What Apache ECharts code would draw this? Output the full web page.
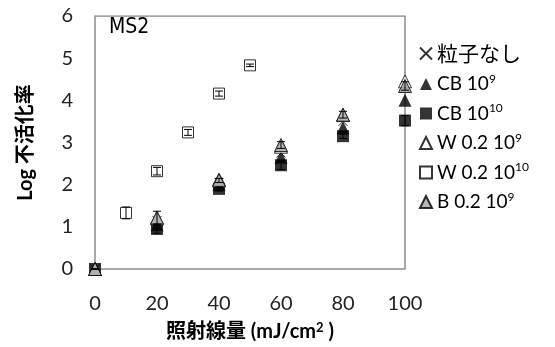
<!DOCTYPE html>
<html>
<head>
<meta charset="utf-8">
<script src="https://cdn.jsdelivr.net/npm/echarts@6/dist/echarts.min.js"></script>
<style>
  html, body { margin: 0; padding: 0; background: #fff; }
  #main { width: 555px; height: 347px; }
</style>
</head>
<body>
<div id="main"></div>
<script>
    var dose = [0, 20, 40, 60, 80, 100];
    var doseW10 = [10, 20, 30, 40, 50];

    var noParticle = [0, 1.15, 2.05, 2.75, 3.5, 4.3];
    var cb9 = [0, 1.05, 2.0, 2.65, 3.35, 4.0];
    var cb10 = [0, 0.95, 1.9, 2.46, 3.15, 3.52];
    var w9 = [0, 1.2, 2.12, 2.9, 3.65, 4.45];
    var w10 = [1.33, 2.32, 3.24, 4.16, 4.83];
    var b9 = [0, 1.22, 2.1, 2.94, 3.66, 4.34];

    var cb10Err = [0, 0.1, 0.05, 0.1, 0.05, 0.12];
    var w10Err = [0.14, 0.09, 0.07, 0.06, 0.03];
    var b9Err = [0, 0.15, 0.05, 0.08, 0.08, 0.1];

    var yTicks = [0, 1, 2, 3, 4, 5, 6];
    var xTicks = [0, 20, 40, 60, 80, 100];

    function pairs(xs, ys) {
        return xs.map(function (x, i) { return [x, ys[i]]; });
    }
    function errData(xs, ys, es) {
        return xs.map(function (x, i) { return [x, ys[i] - es[i], ys[i] + es[i]]; });
    }
    function errRender(params, api) {
        var lo = api.coord([api.value(0), api.value(1)]);
        var hi = api.coord([api.value(0), api.value(2)]);
        var w = 4;
        var st = { stroke: '#000', lineWidth: 1 };
        return {
            type: 'group',
            children: [
                { type: 'line', shape: { x1: lo[0], y1: lo[1], x2: hi[0], y2: hi[1] }, style: st },
                { type: 'line', shape: { x1: lo[0] - w, y1: lo[1], x2: lo[0] + w, y2: lo[1] }, style: st },
                { type: 'line', shape: { x1: hi[0] - w, y1: hi[1], x2: hi[0] + w, y2: hi[1] }, style: st }
            ]
        };
    }

    var crossPath = 'path://M0,0L10,10M10,0L0,10';

    var myChart = echarts.init(document.getElementById('main'));
    var option = {
        animation: false,
        textStyle: { fontFamily: 'Lato, "Noto Sans CJK JP", sans-serif' },
        grid: { left: 95, right: 150, top: 16, bottom: 78 },
        graphic: [{
            type: 'text', left: 109, top: 17,
            style: { text: 'MS2', fontSize: 21, fontFamily: '"DejaVu Sans Condensed", sans-serif', fill: '#000' }
        }],
        legend: {
            orient: 'vertical',
            left: 414,
            top: 38,
            itemGap: 9,
            itemWidth: 12,
            itemHeight: 12,
            data: ['粒子なし', 'CB 10^9', 'CB 10^10', 'W 0.2 10^9', 'W 0.2 10^10', 'B 0.2 10^9'],
            formatter: function (name) {
                if (name.indexOf('^') < 0) return '{j|' + name + '}';
                var p = name.split('^');
                return '{t|' + p[0] + '}{s|' + p[1] + '}';
            },
            textStyle: {
                color: '#000',
                rich: {
                    j: { fontSize: 21, fontFamily: '"Noto Sans CJK JP", sans-serif', color: '#000' },
                    t: { fontSize: 19, fontFamily: 'Lato, sans-serif', color: '#000' },
                    s: { fontSize: 12, fontFamily: 'Lato, sans-serif', color: '#000', padding: [0, 0, 10, 0] }
                }
            }
        },
        xAxis: {
            type: 'value', min: 0, max: 100, interval: 20,
            name: '{a|照射線量 (mJ/cm}{s|2}{a| )}',
            nameLocation: 'middle', nameGap: 52,
            nameTextStyle: {
                rich: {
                    a: { fontSize: 20, fontWeight: 'bold', color: '#000', fontFamily: 'Lato, "Noto Sans CJK JP", sans-serif' },
                    s: { fontSize: 13, fontWeight: 'bold', color: '#000', padding: [0, 0, 9, 0] }
                }
            },
            axisLine: { show: true, lineStyle: { color: '#8c8c8c', width: 1.5 } },
            axisTick: { show: false },
            splitLine: { show: false },
            axisLabel: { fontSize: 20, color: '#222', margin: 25 }
        },
        yAxis: {
            type: 'value', min: 0, max: 6, interval: 1,
            name: 'Log 不活化率',
            nameLocation: 'middle', nameGap: 59, nameRotate: 90,
            nameTextStyle: { fontSize: 20, fontWeight: 'bold', color: '#000' },
            axisLine: { show: true, lineStyle: { color: '#8c8c8c', width: 1.5 } },
            axisTick: { show: false },
            splitLine: { show: false },
            axisLabel: { fontSize: 20, color: '#222', margin: 22 }
        },
        series: [
            {
                type: 'line', data: [[0, 6], [100, 6], [100, 0]], symbol: 'none', silent: true,
                lineStyle: { color: '#8c8c8c', width: 1.5 }, legendHoverLink: false, z: 1
            },
            {
                name: '粒子なし', type: 'scatter', data: pairs(dose, noParticle),
                symbol: crossPath, symbolSize: 9,
                itemStyle: { color: 'transparent', borderColor: '#000', borderWidth: 1 }
            },
            {
                name: 'CB 10^9', type: 'scatter', data: pairs(dose, cb9),
                symbol: 'triangle', symbolSize: 13,
                itemStyle: { color: '#000' }
            },
            {
                name: 'CB 10^10', type: 'scatter', data: pairs(dose, cb10),
                symbol: 'rect', symbolSize: 12,
                itemStyle: { color: '#000' }
            },
            {
                name: 'W 0.2 10^9', type: 'scatter', data: pairs(dose, w9),
                symbol: 'triangle', symbolSize: 13,
                itemStyle: { color: '#fff', borderColor: '#000', borderWidth: 1 }
            },
            {
                name: 'W 0.2 10^10', type: 'scatter', data: pairs(doseW10, w10),
                symbol: 'rect', symbolSize: 11,
                itemStyle: { color: '#fff', borderColor: '#000', borderWidth: 1 }
            },
            {
                name: 'B 0.2 10^9', type: 'scatter', data: pairs(dose, b9),
                symbol: 'triangle', symbolSize: 13,
                itemStyle: { color: '#a6a6a6', borderColor: '#000', borderWidth: 1 }
            },
            { type: 'custom', renderItem: errRender, data: errData(dose, cb10, cb10Err), z: 3, silent: true },
            { type: 'custom', renderItem: errRender, data: errData(doseW10, w10, w10Err), z: 3, silent: true },
            { type: 'custom', renderItem: errRender, data: errData(dose, b9, b9Err), z: 3, silent: true }
        ]
    };
    myChart.setOption(option, true);
</script>
</body>
</html>
